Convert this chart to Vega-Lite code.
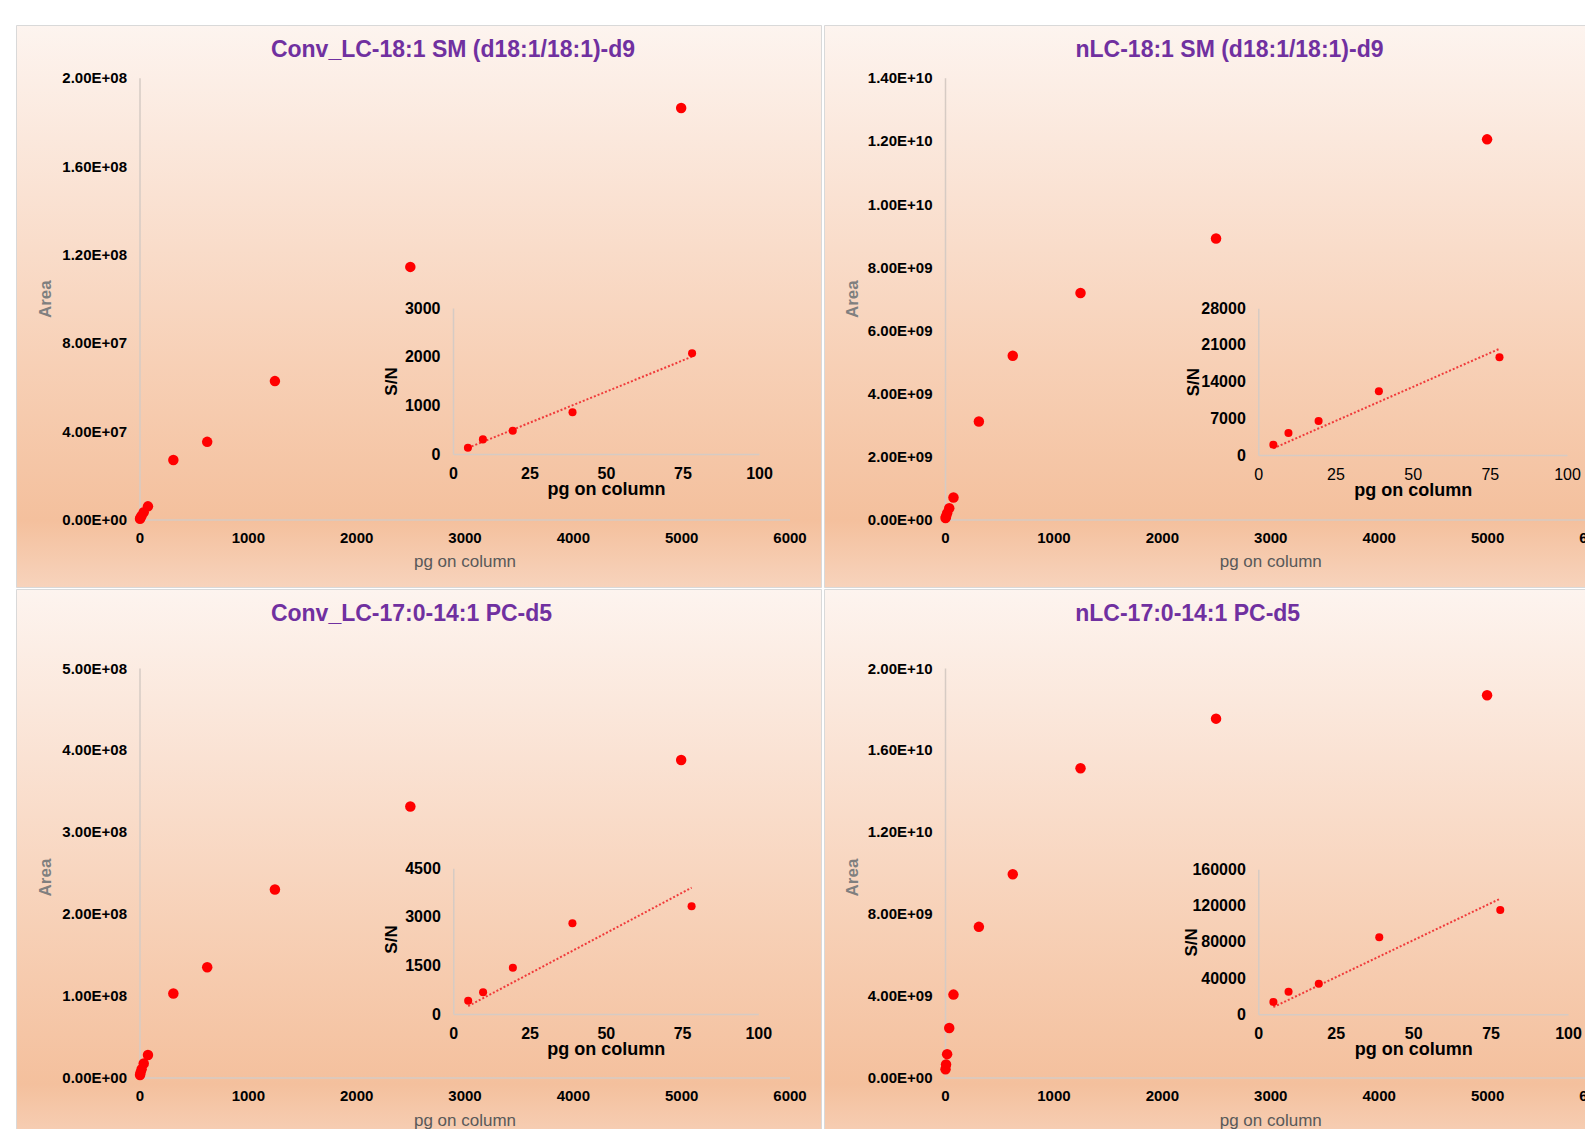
{
  "$schema": "https://vega.github.io/schema/vega-lite/v6.json",
  "background": "#ffffff",
  "padding": {"left": 15, "top": 24, "right": 0, "bottom": 0},
  "spacing": 0,
  "datasets": {
    "main": [
      {"panel": "A", "pg": 4.88, "area": 400000}, {"panel": "A", "pg": 9.77, "area": 900000}, {"panel": "A", "pg": 19.53, "area": 1800000}, {"panel": "A", "pg": 39.06, "area": 3300000}, {"panel": "A", "pg": 78.13, "area": 6000000}, {"panel": "A", "pg": 312.5, "area": 27000000}, {"panel": "A", "pg": 625, "area": 35200000}, {"panel": "A", "pg": 1250, "area": 62700000}, {"panel": "A", "pg": 2500, "area": 114400000}, {"panel": "A", "pg": 5000, "area": 186300000},
      {"panel": "B", "pg": 4.88, "area": 50000000}, {"panel": "B", "pg": 9.77, "area": 100000000}, {"panel": "B", "pg": 19.53, "area": 200000000}, {"panel": "B", "pg": 39.06, "area": 360000000}, {"panel": "B", "pg": 78.13, "area": 700000000}, {"panel": "B", "pg": 312.5, "area": 3110000000}, {"panel": "B", "pg": 625, "area": 5190000000}, {"panel": "B", "pg": 1250, "area": 7180000000}, {"panel": "B", "pg": 2500, "area": 8910000000}, {"panel": "B", "pg": 5000, "area": 12050000000},
      {"panel": "C", "pg": 4.88, "area": 3000000}, {"panel": "C", "pg": 9.77, "area": 6000000}, {"panel": "C", "pg": 19.53, "area": 10000000}, {"panel": "C", "pg": 39.06, "area": 17000000}, {"panel": "C", "pg": 78.13, "area": 27500000}, {"panel": "C", "pg": 312.5, "area": 102500000}, {"panel": "C", "pg": 625, "area": 134600000}, {"panel": "C", "pg": 1250, "area": 229600000}, {"panel": "C", "pg": 2500, "area": 330900000}, {"panel": "C", "pg": 5000, "area": 387700000},
      {"panel": "D", "pg": 4.88, "area": 400000000}, {"panel": "D", "pg": 9.77, "area": 640000000}, {"panel": "D", "pg": 19.53, "area": 1140000000}, {"panel": "D", "pg": 39.06, "area": 2420000000}, {"panel": "D", "pg": 78.13, "area": 4050000000}, {"panel": "D", "pg": 312.5, "area": 7360000000}, {"panel": "D", "pg": 625, "area": 9930000000}, {"panel": "D", "pg": 1250, "area": 15110000000}, {"panel": "D", "pg": 2500, "area": 17530000000}, {"panel": "D", "pg": 5000, "area": 18670000000}
    ],
    "inset": [
      {"panel": "A", "pg": 4.88, "sn": 130}, {"panel": "A", "pg": 9.77, "sn": 300}, {"panel": "A", "pg": 19.53, "sn": 479}, {"panel": "A", "pg": 39.06, "sn": 857}, {"panel": "A", "pg": 78.13, "sn": 2069},
      {"panel": "B", "pg": 4.88, "sn": 1970}, {"panel": "B", "pg": 9.77, "sn": 4200}, {"panel": "B", "pg": 19.53, "sn": 6490}, {"panel": "B", "pg": 39.06, "sn": 12160}, {"panel": "B", "pg": 78.13, "sn": 18650},
      {"panel": "C", "pg": 4.88, "sn": 411}, {"panel": "C", "pg": 9.77, "sn": 670}, {"panel": "C", "pg": 19.53, "sn": 1431}, {"panel": "C", "pg": 39.06, "sn": 2803}, {"panel": "C", "pg": 78.13, "sn": 3328},
      {"panel": "D", "pg": 4.88, "sn": 13570}, {"panel": "D", "pg": 9.77, "sn": 24940}, {"panel": "D", "pg": 19.53, "sn": 33770}, {"panel": "D", "pg": 39.06, "sn": 84960}, {"panel": "D", "pg": 78.13, "sn": 115080}
    ],
    "trend": [
      {"panel": "A", "pg": 4.88, "sn": 125}, {"panel": "A", "pg": 78.13, "sn": 2000},
      {"panel": "B", "pg": 4.88, "sn": 1270}, {"panel": "B", "pg": 78.13, "sn": 20270},
      {"panel": "C", "pg": 4.88, "sn": 244}, {"panel": "C", "pg": 78.13, "sn": 3900},
      {"panel": "D", "pg": 4.88, "sn": 7970}, {"panel": "D", "pg": 78.13, "sn": 127600}
    ]
  },
  "vconcat": [
    {
      "spacing": 1,
      "hconcat": [
        {
          "width": 805, "height": 562,
          "title": {"text": "Conv_LC-18:1 SM (d18:1/18:1)-d9", "dx": 34.5},
          "resolve": {"scale": {"x": "independent", "y": "independent"}, "axis": {"x": "independent", "y": "independent"}},
          "layer": [
            {
              "data": {"name": "main"},
              "transform": [{"filter": "datum.panel == 'A'"}],
              "mark": {"type": "circle", "size": 110, "color": "#ff0000", "opacity": 1},
              "encoding": {
                "x": {"field": "pg", "type": "quantitative",
                  "scale": {"domain": [0, 6000], "range": [123.5, 773.5], "nice": false, "zero": false},
                  "axis": {"orient": "bottom", "offset": -67.4, "values": [0, 1000, 2000, 3000, 4000, 5000, 6000], "format": "d", "labelFontSize": 15, "labelPadding": 11, "title": "pg on column", "titleY": 41.4, "titleFontSize": 17, "titleFontWeight": "normal", "titleColor": "#595959"}},
                "y": {"field": "area", "type": "quantitative",
                  "scale": {"domain": [0, 200000000], "range": [494.6, 52.8], "nice": false, "zero": false},
                  "axis": {"orient": "left", "offset": -123.5, "values": [0, 40000000, 80000000, 120000000, 160000000, 200000000], "labelExpr": "datum.value == 0 ? '0.00E+00' : format(datum.value / pow(10, floor(log(datum.value) / LN10 + 1e-9)), '.2f') + 'E+' + (floor(log(datum.value) / LN10 + 1e-9) < 10 ? '0' : '') + floor(log(datum.value) / LN10 + 1e-9)", "labelFontSize": 15, "labelPadding": 13, "title": "Area", "titleX": -94, "titleY": 273.7, "titleFontSize": 17, "titleFontWeight": "bold", "titleColor": "#7f7f7f"}}
              }
            },
            {
              "layer": [
                {
                  "data": {"name": "trend"},
                  "transform": [{"filter": "datum.panel == 'A'"}],
                  "mark": {"type": "line", "color": "#f03a3a", "strokeDash": [2, 2], "strokeWidth": 2},
                  "encoding": {
                    "x": {"field": "pg", "type": "quantitative", "scale": {"domain": [0, 100], "range": [437, 743], "nice": false, "zero": false},
                      "axis": {"orient": "bottom", "offset": -133, "values": [0, 25, 50, 75, 100], "format": "d", "labelFontSize": 16, "labelPadding": 11, "title": "pg on column", "titleY": 35.5, "titleFontSize": 18, "titleFontWeight": "bold", "titleColor": "#000000"}},
                    "y": {"field": "sn", "type": "quantitative", "scale": {"domain": [0, 3000], "range": [429, 283], "nice": false, "zero": false},
                      "axis": {"orient": "left", "offset": -437, "values": [0, 1000, 2000, 3000], "format": "d", "labelFontSize": 16, "labelPadding": 13, "title": "S/N", "titleX": -61.3, "titleY": 356, "titleFontSize": 17, "titleFontWeight": "bold", "titleColor": "#000000"}}
                  }
                },
                {
                  "data": {"name": "inset"},
                  "transform": [{"filter": "datum.panel == 'A'"}],
                  "mark": {"type": "circle", "size": 65, "color": "#ff0000", "opacity": 1},
                  "encoding": {
                    "x": {"field": "pg", "type": "quantitative", "scale": {"domain": [0, 100], "range": [437, 743], "nice": false, "zero": false},
                      "axis": {"orient": "bottom", "offset": -133, "values": [0, 25, 50, 75, 100], "format": "d", "labelFontSize": 16, "labelPadding": 11, "title": "pg on column", "titleY": 35.5, "titleFontSize": 18, "titleFontWeight": "bold", "titleColor": "#000000"}},
                    "y": {"field": "sn", "type": "quantitative", "scale": {"domain": [0, 3000], "range": [429, 283], "nice": false, "zero": false},
                      "axis": {"orient": "left", "offset": -437, "values": [0, 1000, 2000, 3000], "format": "d", "labelFontSize": 16, "labelPadding": 13, "title": "S/N", "titleX": -61.3, "titleY": 356, "titleFontSize": 17, "titleFontWeight": "bold", "titleColor": "#000000"}}
                  }
                }
              ]
            }
          ]
        },
        {
          "width": 805, "height": 562,
          "title": {"text": "nLC-18:1 SM (d18:1/18:1)-d9", "dx": 3},
          "resolve": {"scale": {"x": "independent", "y": "independent"}, "axis": {"x": "independent", "y": "independent"}},
          "layer": [
            {
              "data": {"name": "main"},
              "transform": [{"filter": "datum.panel == 'B'"}],
              "mark": {"type": "circle", "size": 110, "color": "#ff0000", "opacity": 1},
              "encoding": {
                "x": {"field": "pg", "type": "quantitative",
                  "scale": {"domain": [0, 6000], "range": [121, 771.5], "nice": false, "zero": false},
                  "axis": {"orient": "bottom", "offset": -67.4, "values": [0, 1000, 2000, 3000, 4000, 5000, 6000], "format": "d", "labelFontSize": 15, "labelPadding": 11, "title": "pg on column", "titleY": 41.4, "titleFontSize": 17, "titleFontWeight": "normal", "titleColor": "#595959"}},
                "y": {"field": "area", "type": "quantitative",
                  "scale": {"domain": [0, 14000000000], "range": [494.6, 52.8], "nice": false, "zero": false},
                  "axis": {"orient": "left", "offset": -121, "values": [0, 2000000000, 4000000000, 6000000000, 8000000000, 10000000000, 12000000000, 14000000000], "labelExpr": "datum.value == 0 ? '0.00E+00' : format(datum.value / pow(10, floor(log(datum.value) / LN10 + 1e-9)), '.2f') + 'E+' + (floor(log(datum.value) / LN10 + 1e-9) < 10 ? '0' : '') + floor(log(datum.value) / LN10 + 1e-9)", "labelFontSize": 15, "labelPadding": 13, "title": "Area", "titleX": -93, "titleY": 273.7, "titleFontSize": 17, "titleFontWeight": "bold", "titleColor": "#7f7f7f"}}
              }
            },
            {
              "layer": [
                {
                  "data": {"name": "trend"},
                  "transform": [{"filter": "datum.panel == 'B'"}],
                  "mark": {"type": "line", "color": "#f03a3a", "strokeDash": [2, 2], "strokeWidth": 2},
                  "encoding": {
                    "x": {"field": "pg", "type": "quantitative", "scale": {"domain": [0, 100], "range": [434.3, 743], "nice": false, "zero": false},
                      "axis": {"orient": "bottom", "offset": -132, "values": [0, 25, 50, 75, 100], "format": "d", "labelFontSize": 16, "labelFontWeight": "normal", "labelPadding": 11, "title": "pg on column", "titleY": 35, "titleFontSize": 18, "titleFontWeight": "bold", "titleColor": "#000000"}},
                    "y": {"field": "sn", "type": "quantitative", "scale": {"domain": [0, 28000], "range": [430, 283.3], "nice": false, "zero": false},
                      "axis": {"orient": "left", "offset": -434.3, "values": [0, 7000, 14000, 21000, 28000], "format": "d", "labelFontSize": 16, "labelPadding": 13, "title": "S/N", "titleX": -65.3, "titleY": 356.7, "titleFontSize": 17, "titleFontWeight": "bold", "titleColor": "#000000"}}
                  }
                },
                {
                  "data": {"name": "inset"},
                  "transform": [{"filter": "datum.panel == 'B'"}],
                  "mark": {"type": "circle", "size": 65, "color": "#ff0000", "opacity": 1},
                  "encoding": {
                    "x": {"field": "pg", "type": "quantitative", "scale": {"domain": [0, 100], "range": [434.3, 743], "nice": false, "zero": false},
                      "axis": {"orient": "bottom", "offset": -132, "values": [0, 25, 50, 75, 100], "format": "d", "labelFontSize": 16, "labelFontWeight": "normal", "labelPadding": 11, "title": "pg on column", "titleY": 35, "titleFontSize": 18, "titleFontWeight": "bold", "titleColor": "#000000"}},
                    "y": {"field": "sn", "type": "quantitative", "scale": {"domain": [0, 28000], "range": [430, 283.3], "nice": false, "zero": false},
                      "axis": {"orient": "left", "offset": -434.3, "values": [0, 7000, 14000, 21000, 28000], "format": "d", "labelFontSize": 16, "labelPadding": 13, "title": "S/N", "titleX": -65.3, "titleY": 356.7, "titleFontSize": 17, "titleFontWeight": "bold", "titleColor": "#000000"}}
                  }
                }
              ]
            }
          ]
        }
      ]
    },
    {
      "spacing": 1,
      "hconcat": [
        {
          "width": 805, "height": 562,
          "title": {"text": "Conv_LC-17:0-14:1 PC-d5", "dx": -7},
          "resolve": {"scale": {"x": "independent", "y": "independent"}, "axis": {"x": "independent", "y": "independent"}},
          "layer": [
            {
              "data": {"name": "main"},
              "transform": [{"filter": "datum.panel == 'C'"}],
              "mark": {"type": "circle", "size": 110, "color": "#ff0000", "opacity": 1},
              "encoding": {
                "x": {"field": "pg", "type": "quantitative",
                  "scale": {"domain": [0, 6000], "range": [123.5, 773.5], "nice": false, "zero": false},
                  "axis": {"orient": "bottom", "offset": -73.5, "values": [0, 1000, 2000, 3000, 4000, 5000, 6000], "format": "d", "labelFontSize": 15, "labelPadding": 11, "title": "pg on column", "titleY": 42.5, "titleFontSize": 17, "titleFontWeight": "normal", "titleColor": "#595959"}},
                "y": {"field": "area", "type": "quantitative",
                  "scale": {"domain": [0, 500000000], "range": [488.5, 79.1], "nice": false, "zero": false},
                  "axis": {"orient": "left", "offset": -123.5, "values": [0, 100000000, 200000000, 300000000, 400000000, 500000000], "labelExpr": "datum.value == 0 ? '0.00E+00' : format(datum.value / pow(10, floor(log(datum.value) / LN10 + 1e-9)), '.2f') + 'E+' + (floor(log(datum.value) / LN10 + 1e-9) < 10 ? '0' : '') + floor(log(datum.value) / LN10 + 1e-9)", "labelFontSize": 15, "labelPadding": 13, "title": "Area", "titleX": -94, "titleY": 288, "titleFontSize": 17, "titleFontWeight": "bold", "titleColor": "#7f7f7f"}}
              }
            },
            {
              "layer": [
                {
                  "data": {"name": "trend"},
                  "transform": [{"filter": "datum.panel == 'C'"}],
                  "mark": {"type": "line", "color": "#f03a3a", "strokeDash": [2, 2], "strokeWidth": 2},
                  "encoding": {
                    "x": {"field": "pg", "type": "quantitative", "scale": {"domain": [0, 100], "range": [437.3, 742.3], "nice": false, "zero": false},
                      "axis": {"orient": "bottom", "offset": -137, "values": [0, 25, 50, 75, 100], "format": "d", "labelFontSize": 16, "labelPadding": 11, "title": "pg on column", "titleY": 35, "titleFontSize": 18, "titleFontWeight": "bold", "titleColor": "#000000"}},
                    "y": {"field": "sn", "type": "quantitative", "scale": {"domain": [0, 4500], "range": [425, 279.3], "nice": false, "zero": false},
                      "axis": {"orient": "left", "offset": -437.3, "values": [0, 1500, 3000, 4500], "format": "d", "labelFontSize": 16, "labelPadding": 13, "title": "S/N", "titleX": -61.6, "titleY": 350, "titleFontSize": 17, "titleFontWeight": "bold", "titleColor": "#000000"}}
                  }
                },
                {
                  "data": {"name": "inset"},
                  "transform": [{"filter": "datum.panel == 'C'"}],
                  "mark": {"type": "circle", "size": 65, "color": "#ff0000", "opacity": 1},
                  "encoding": {
                    "x": {"field": "pg", "type": "quantitative", "scale": {"domain": [0, 100], "range": [437.3, 742.3], "nice": false, "zero": false},
                      "axis": {"orient": "bottom", "offset": -137, "values": [0, 25, 50, 75, 100], "format": "d", "labelFontSize": 16, "labelPadding": 11, "title": "pg on column", "titleY": 35, "titleFontSize": 18, "titleFontWeight": "bold", "titleColor": "#000000"}},
                    "y": {"field": "sn", "type": "quantitative", "scale": {"domain": [0, 4500], "range": [425, 279.3], "nice": false, "zero": false},
                      "axis": {"orient": "left", "offset": -437.3, "values": [0, 1500, 3000, 4500], "format": "d", "labelFontSize": 16, "labelPadding": 13, "title": "S/N", "titleX": -61.6, "titleY": 350, "titleFontSize": 17, "titleFontWeight": "bold", "titleColor": "#000000"}}
                  }
                }
              ]
            }
          ]
        },
        {
          "width": 805, "height": 562,
          "title": {"text": "nLC-17:0-14:1 PC-d5", "dx": -38.8},
          "resolve": {"scale": {"x": "independent", "y": "independent"}, "axis": {"x": "independent", "y": "independent"}},
          "layer": [
            {
              "data": {"name": "main"},
              "transform": [{"filter": "datum.panel == 'D'"}],
              "mark": {"type": "circle", "size": 110, "color": "#ff0000", "opacity": 1},
              "encoding": {
                "x": {"field": "pg", "type": "quantitative",
                  "scale": {"domain": [0, 6000], "range": [121, 771.5], "nice": false, "zero": false},
                  "axis": {"orient": "bottom", "offset": -73.5, "values": [0, 1000, 2000, 3000, 4000, 5000, 6000], "format": "d", "labelFontSize": 15, "labelPadding": 11, "title": "pg on column", "titleY": 42.5, "titleFontSize": 17, "titleFontWeight": "normal", "titleColor": "#595959"}},
                "y": {"field": "area", "type": "quantitative",
                  "scale": {"domain": [0, 20000000000], "range": [488.5, 79.1], "nice": false, "zero": false},
                  "axis": {"orient": "left", "offset": -121, "values": [0, 4000000000, 8000000000, 12000000000, 16000000000, 20000000000], "labelExpr": "datum.value == 0 ? '0.00E+00' : format(datum.value / pow(10, floor(log(datum.value) / LN10 + 1e-9)), '.2f') + 'E+' + (floor(log(datum.value) / LN10 + 1e-9) < 10 ? '0' : '') + floor(log(datum.value) / LN10 + 1e-9)", "labelFontSize": 15, "labelPadding": 13, "title": "Area", "titleX": -93, "titleY": 288, "titleFontSize": 17, "titleFontWeight": "bold", "titleColor": "#7f7f7f"}}
              }
            },
            {
              "layer": [
                {
                  "data": {"name": "trend"},
                  "transform": [{"filter": "datum.panel == 'D'"}],
                  "mark": {"type": "line", "color": "#f03a3a", "strokeDash": [2, 2], "strokeWidth": 2},
                  "encoding": {
                    "x": {"field": "pg", "type": "quantitative", "scale": {"domain": [0, 100], "range": [434.3, 744], "nice": false, "zero": false},
                      "axis": {"orient": "bottom", "offset": -136.7, "values": [0, 25, 50, 75, 100], "format": "d", "labelFontSize": 16, "labelPadding": 11, "title": "pg on column", "titleY": 35, "titleFontSize": 18, "titleFontWeight": "bold", "titleColor": "#000000"}},
                    "y": {"field": "sn", "type": "quantitative", "scale": {"domain": [0, 160000], "range": [425.3, 280.3], "nice": false, "zero": false},
                      "axis": {"orient": "left", "offset": -434.3, "values": [0, 40000, 80000, 120000, 160000], "format": "d", "labelFontSize": 16, "labelPadding": 13, "title": "S/N", "titleX": -66.6, "titleY": 352.8, "titleFontSize": 17, "titleFontWeight": "bold", "titleColor": "#000000"}}
                  }
                },
                {
                  "data": {"name": "inset"},
                  "transform": [{"filter": "datum.panel == 'D'"}],
                  "mark": {"type": "circle", "size": 65, "color": "#ff0000", "opacity": 1},
                  "encoding": {
                    "x": {"field": "pg", "type": "quantitative", "scale": {"domain": [0, 100], "range": [434.3, 744], "nice": false, "zero": false},
                      "axis": {"orient": "bottom", "offset": -136.7, "values": [0, 25, 50, 75, 100], "format": "d", "labelFontSize": 16, "labelPadding": 11, "title": "pg on column", "titleY": 35, "titleFontSize": 18, "titleFontWeight": "bold", "titleColor": "#000000"}},
                    "y": {"field": "sn", "type": "quantitative", "scale": {"domain": [0, 160000], "range": [425.3, 280.3], "nice": false, "zero": false},
                      "axis": {"orient": "left", "offset": -434.3, "values": [0, 40000, 80000, 120000, 160000], "format": "d", "labelFontSize": 16, "labelPadding": 13, "title": "S/N", "titleX": -66.6, "titleY": 352.8, "titleFontSize": 17, "titleFontWeight": "bold", "titleColor": "#000000"}}
                  }
                }
              ]
            }
          ]
        }
      ]
    }
  ],
  "config": {
    "font": "Liberation Sans",
    "view": {
      "stroke": "#d9d9d9",
      "strokeWidth": 1,
      "fill": {"gradient": "linear", "x1": 0, "y1": 0, "x2": 0, "y2": 1, "stops": [
        {"offset": 0, "color": "#fdf4ef"},
        {"offset": 0.3, "color": "#fae2d3"},
        {"offset": 0.6, "color": "#f7d0b6"},
        {"offset": 0.88, "color": "#f4c09d"},
        {"offset": 1, "color": "#f7d3bc"}
      ]}
    },
    "title": {"fontSize": 23, "fontWeight": "bold", "color": "#7030A0", "font": "Liberation Sans", "anchor": "middle", "frame": "group", "baseline": "middle", "offset": -37},
    "axis": {
      "ticks": false,
      "grid": false,
      "domainColor": "#d6cbc4",
      "domainWidth": 1.5,
      "labelFont": "Liberation Sans",
      "titleFont": "Liberation Sans",
      "labelColor": "#000000",
      "labelFontWeight": "bold",
      "labelOverlap": false,
      "labelFlush": false,
      "titleBaseline": "middle"
    }
  }
}
